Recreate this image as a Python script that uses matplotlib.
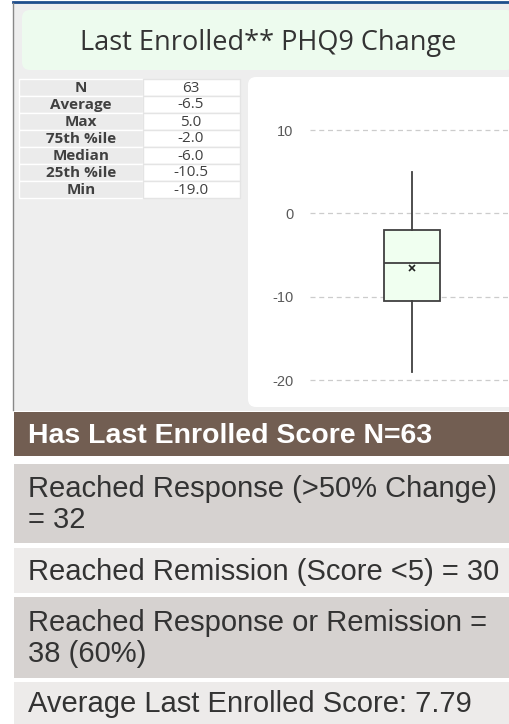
import matplotlib
matplotlib.use("Agg")
import matplotlib.pyplot as plt
from matplotlib.patches import FancyBboxPatch, Rectangle

plt.rcParams["axes.unicode_minus"] = False

# stats table
stat_labels = ["N", "Average", "Max", "75th %ile", "Median", "25th %ile", "Min"]
stat_values = ["63", "-6.5", "5.0", "-2.0", "-6.0", "-10.5", "-19.0"]

# box plot values
box_min = -19.0
box_q1 = -10.5
box_med = -6.0
box_q3 = -2.0
box_max = 5.0
box_mean = -6.5
y_ticks = [10, 0, -10, -20]

# summary
header_text = "Has Last Enrolled Score N=63"
summary_rows = [
    "Reached Response (>50% Change)\n= 32",
    "Reached Remission (Score <5) = 30",
    "Reached Response or Remission =\n38 (60%)",
    "Average Last Enrolled Score: 7.79",
]

W, H = 510, 724
fig = plt.figure(figsize=(W / 100, H / 100), dpi=100)
bg = fig.add_axes([0, 0, 1, 1])
bg.set_xlim(0, W)
bg.set_ylim(H, 0)
bg.axis("off")

# top panel
bg.add_patch(Rectangle((14, 3), W - 14, 408, color="#eeeeee", lw=0))
bg.plot([13, W], [1.5, 1.5], color="#1f4e8c", lw=2)
bg.plot([13.5, 13.5], [3, 410], color="#888888", lw=1)
bg.add_patch(FancyBboxPatch((22, 10), W - 18, 60, boxstyle="round,pad=0,rounding_size=8",
                            fc="#edfbee", ec="none"))
bg.text(268, 43, "Last Enrolled** PHQ9 Change", ha="center", va="center",
        fontsize=19.5, family="Open Sans", color="#333333")

# table
row_h = 17
top = 79
for i in range(len(stat_labels)):
    y = top + i * row_h
    bg.add_patch(Rectangle((19, y), 124, row_h, fc="#ebebeb", ec="white", lw=1))
    bg.add_patch(Rectangle((143, y), 97, row_h, fc="white", ec="#e4e4e4", lw=1))
    bg.text(81, y + row_h / 2 + 0.5, stat_labels[i], ha="center", va="center",
            fontsize=11, family="Open Sans", weight="bold", color="#404040")
    bg.text(191, y + row_h / 2 + 0.5, stat_values[i], ha="center", va="center",
            fontsize=11, family="Open Sans", color="#404040")

# chart card
bg.add_patch(FancyBboxPatch((248, 77), W - 248 + 10, 330, boxstyle="round,pad=0,rounding_size=8",
                            fc="white", ec="none"))

ax = fig.add_axes([310 / W, 1 - 380 / H, 200 / W, 250 / H])
ax.set_ylim(-20, 10)
ax.set_xlim(-0.02, 1.98)
stats = [{"whislo": box_min, "q1": box_q1, "med": box_med, "q3": box_q3,
          "whishi": box_max, "mean": box_mean, "fliers": []}]
ax.bxp(stats, positions=[1], widths=0.56, showmeans=True, showcaps=False,
       patch_artist=True,
       boxprops=dict(facecolor="#f0fff0", edgecolor="#404040", lw=1.3),
       medianprops=dict(color="#404040", lw=1.3),
       whiskerprops=dict(color="#404040", lw=1.3),
       meanprops=dict(marker="x", markeredgecolor="#222222", markersize=5, markeredgewidth=1.2))
ax.set_yticks(y_ticks)
ax.set_xticks([])
for t in y_ticks:
    ax.axhline(t, color="#cccccc", lw=0.9, ls=(0, (4, 3)), zorder=0, clip_on=False)
ax.tick_params(axis="y", length=0, pad=12, labelsize=10.5, labelcolor="#595959")
for lbl in ax.get_yticklabels():
    lbl.set_family("Liberation Sans")
for s in ax.spines.values():
    s.set_visible(False)
ax.patch.set_alpha(0)

# summary section
bg.add_patch(Rectangle((14, 412), W - 14, 44, fc="#725e52", lw=0))
bg.text(28, 436, header_text, ha="left", va="center", fontsize=20.5,
        family="Liberation Sans", weight="bold", color="white")

row_spans = [(464, 543), (548, 593), (597, 678), (682, 724)]
row_colors = ["#d6d2d0", "#edebea", "#d6d2d0", "#edebea"]
for (y0, y1), c, txt in zip(row_spans, row_colors, summary_rows):
    bg.add_patch(Rectangle((14, y0), W - 14, y1 - y0, fc=c, lw=0))
    bg.text(28, (y0 + y1) / 2 + 1, txt, ha="left", va="center", fontsize=21,
            family="Liberation Sans", color="#333333", linespacing=1.15)

fig.savefig("out.png", dpi=100)
